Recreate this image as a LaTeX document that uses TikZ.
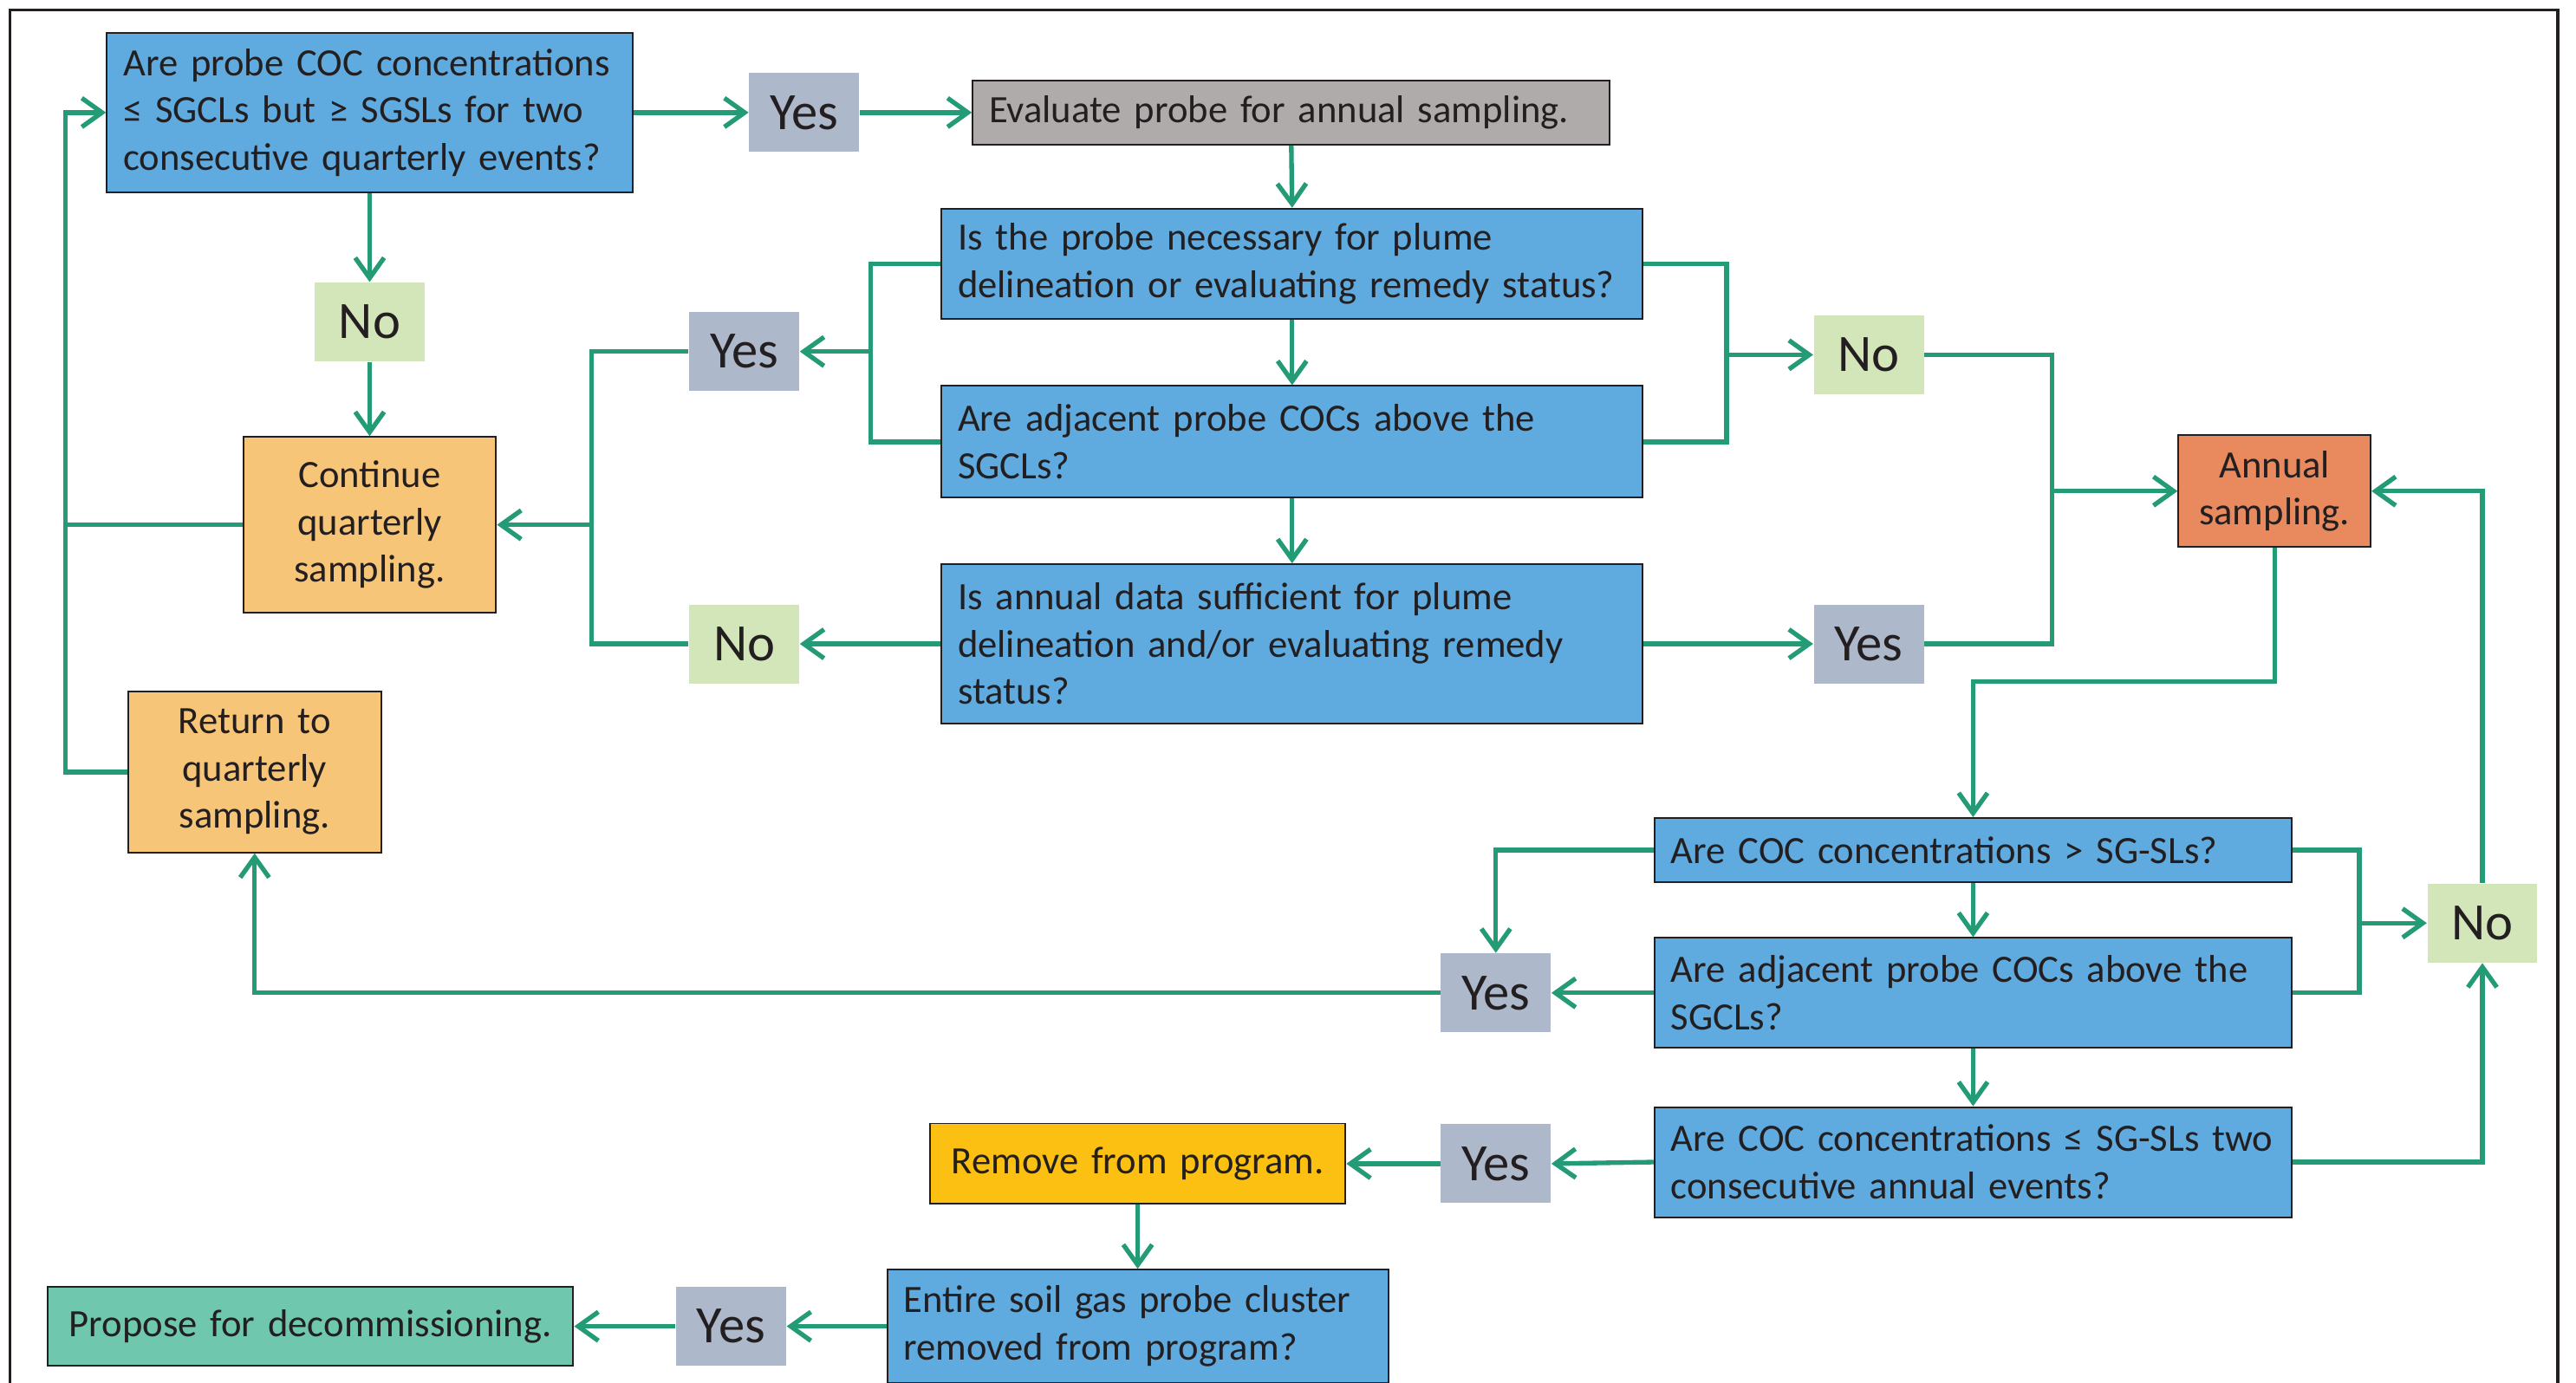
\documentclass[tikz,border=0pt]{standalone}
\usepackage{fontspec}
\setmainfont{Carlito}
\usepackage{tikz}
\usetikzlibrary{arrows.meta}
\definecolor{qblue}{HTML}{5FAADE}
\definecolor{evalgrey}{HTML}{AFABAB}
\definecolor{yesgrey}{HTML}{ADB8CB}
\definecolor{nogreen}{HTML}{D3E6BA}
\definecolor{quarter}{HTML}{F7C577}
\definecolor{annualred}{HTML}{E8895E}
\definecolor{removeyel}{HTML}{FBC012}
\definecolor{proposegr}{HTML}{6FC7AE}
\definecolor{linkgreen}{HTML}{239B76}
\definecolor{edge}{HTML}{231F20}
\definecolor{txt}{HTML}{231F20}

\begin{document}
\begin{tikzpicture}[x=0.02cm,y=-0.02cm,
every node/.style={font=\fontsize{13.4}{16.4}\selectfont,text=txt,inner ysep=0pt,inner xsep=0.2cm},
qbox/.style={draw=edge,line width=0.6pt,fill=qblue,align=left,text width=#1},
actbox/.style={draw=edge,line width=0.6pt,align=center,text width=#1},
yesbox/.style={fill=yesgrey,minimum width=1.34cm,minimum height=0.96cm,inner sep=0pt,font=\fontsize{18.2}{20}\selectfont},
nobox/.style={yesbox,fill=nogreen},
link/.style={draw=linkgreen,line width=1.6pt},
flow/.style={link,-{Straight Barb[length=7pt,width=10pt]}}]
\useasboundingbox (0,0) rectangle (1568,841.5);
\draw[line width=1.1pt,edge] (6,860) -- (6,6) -- (1557,6) -- (1557,860);

\node[qbox=6cm,minimum height=1.94cm] (q1) at (225,68.5) {Are probe COC concentrations\\≤ SGCLs but ≥ SGSLs for two\\consecutive quarterly events?};
\node[yesbox] (yes1) at (489.5,68.5) {Yes};
\node[actbox=7.36cm,fill=evalgrey,align=left,minimum height=0.78cm] (eval) at (786,68.5) {Evaluate probe for annual sampling.};
\node[nobox] (no1) at (225,196) {No};
\node[actbox=2.68cm,fill=quarter,minimum height=2.14cm] (contq) at (225,319.5) {Continue\\quarterly\\sampling.};
\node[actbox=2.68cm,fill=quarter,minimum height=1.96cm] (retq) at (155,470) {Return to\\quarterly\\sampling.};
\node[qbox=8.14cm,minimum height=1.34cm] (q2) at (786.5,160.5) {Is the probe necessary for plume\\delineation or evaluating remedy status?};
\node[qbox=8.14cm,minimum height=1.36cm] (q3) at (786.5,269) {Are adjacent probe COCs above the\\SGCLs?};
\node[qbox=8.14cm,minimum height=1.94cm] (q4) at (786.5,392) {Is annual data sufficient for plume\\delineation and/or evaluating remedy\\status?};
\node[yesbox] (yes2) at (453,214) {Yes};
\node[nobox] (no2) at (453,392) {No};
\node[nobox] (no3) at (1137.5,216) {No};
\node[yesbox] (yes3) at (1137.5,392) {Yes};
\node[actbox=1.94cm,fill=annualred,minimum height=1.36cm] (annual) at (1384.5,299) {Annual\\sampling.};
\node[qbox=7.36cm,minimum height=0.78cm] (q5) at (1201,517.5) {Are COC concentrations > SG-SLs?};
\node[qbox=7.36cm,minimum height=1.34cm] (q6) at (1201,604.5) {Are adjacent probe COCs above the\\SGCLs?};
\node[qbox=7.36cm,minimum height=1.34cm] (q7) at (1201,707.5) {Are COC concentrations ≤ SG-SLs two\\consecutive annual events?};
\node[nobox] (no4) at (1511,562) {No};
\node[yesbox] (yes4) at (910.5,604.5) {Yes};
\node[yesbox] (yes5) at (910.5,708.5) {Yes};
\node[actbox=4.66cm,fill=removeyel,minimum height=0.98cm] (remove) at (692.5,708.5) {Remove from program.};
\node[qbox=5.7cm,minimum height=1.38cm] (entire) at (692.5,807.5) {Entire soil gas probe cluster\\removed from program?};
\node[yesbox] (yes6) at (445,807.5) {Yes};
\node[actbox=6cm,fill=proposegr,minimum height=0.96cm] (propose) at (189,807.5) {Propose for decommissioning.};

\coordinate (loopL) at (40,68.5);
\coordinate (busL) at (530,214);
\coordinate (busC) at (360,319.5);
\coordinate (busR) at (1051,216);
\coordinate (busA) at (1249,299);
\coordinate (drop) at (1201,415);
\coordinate (busN) at (1436,562);

\draw[flow] (q1.east) -- (yes1.west);
\draw[flow] (yes1.east) -- (eval.west);
\draw[flow] (q1.south) -- (no1.north);
\draw[flow] (no1.south) -- (contq.north);
\draw[flow] (retq.west) -| (loopL) -- (q1.west);
\draw[link] (contq.west) -- (contq.west -| loopL);
\draw[flow] (eval.south) -- (q2.north);
\draw[flow] (q2.south) -- (q3.north);
\draw[flow] (q3.south) -- (q4.north);
\draw[link] (q2.west) -| (busL) |- (q3.west);
\draw[flow] (busL) -- (yes2.east);
\draw[link] (yes2.west) -| (busC) |- (no2.west);
\draw[flow] (busC) -- (contq.east);
\draw[flow] (q4.west) -- (no2.east);
\draw[link] (q2.east) -| (busR) |- (q3.east);
\draw[flow] (busR) -- (no3.west);
\draw[flow] (q4.east) -- (yes3.west);
\draw[link] (no3.east) -| (busA) |- (yes3.east);
\draw[flow] (busA) -- (annual.west);
\draw[flow] (annual.south) |- (drop) -- (q5.north);
\draw[flow] (q5.south) -- (q6.north);
\draw[flow] (q6.south) -- (q7.north);
\draw[link] (q5.east) -| (busN) |- (q6.east);
\draw[flow] (busN) -- (no4.west);
\draw[flow] (q7.east) -| (no4.south);
\draw[flow] (no4.north) |- (annual.east);
\draw[flow] (q5.west) -| (yes4.north);
\draw[flow] (q6.west) -- (yes4.east);
\draw[flow] (yes4.west) -| (retq.south);
\draw[flow] (q7.west) -- (yes5.east);
\draw[flow] (yes5.west) -- (remove.east);
\draw[flow] (remove.south) -- (entire.north);
\draw[flow] (entire.west) -- (yes6.east);
\draw[flow] (yes6.west) -- (propose.east);
\end{tikzpicture}
\end{document}
